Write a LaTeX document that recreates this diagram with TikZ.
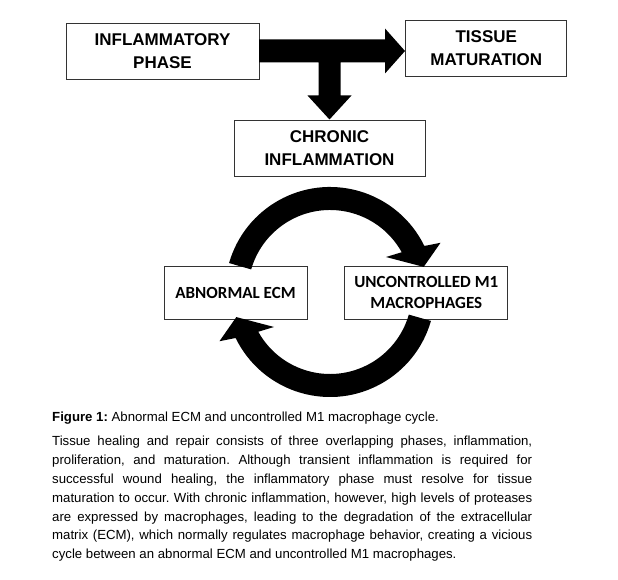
\documentclass[tikz,border=0pt]{standalone}
\usepackage{fontspec}
\setmainfont{Liberation Sans}
\newfontfamily\calibrifont{Carlito}
\usetikzlibrary{positioning}
\frenchspacing

\begin{document}
\begin{tikzpicture}[x=1pt,y=1pt]
  \tikzstyle{every node}=[inner sep=0pt]
  \tikzstyle{phase}=[draw=black!80,line width=0.8pt,fill=white,align=center,
                     minimum height=56pt,font=\fontsize{17}{22.5}\selectfont\bfseries]
  \tikzstyle{loopbox}=[phase,minimum height=53pt,
                       font=\fontsize{17}{20.5}\selectfont\calibrifont\bfseries]

  \useasboundingbox (0,0) rectangle (618,580);

  \node[phase,minimum width=193pt] (infl) at (162.5,529) {INFLAMMATORY\\PHASE};
  \node[phase,minimum width=161pt] (tissue) [right=146pt of infl,yshift=3pt]
    {TISSUE\\MATURATION};
  \node[phase,minimum width=191pt] (chronic) at (329.5,432) {CHRONIC\\INFLAMMATION};
  \node[loopbox,minimum width=143pt] (ecm) at (235.5,287.5) {ABNORMAL ECM};
  \node[loopbox,minimum width=163pt] (mone) [right=37pt of ecm]
    {UNCONTROLLED M1\\MACROPHAGES};

  \coordinate (fork) at (chronic.north |- infl.east);
  \coordinate (cyc) at (330,288);

  \fill[shift={(fork)}] (-70.5,11.5) -- (55.5,11.5) -- (55.5,22.5) -- (75.5,0)
    -- (55.5,-22.5) -- (55.5,-11.5) -- (11,-11.5) -- (11,-44.5) -- (22,-44.5)
    -- (0,-68.5) -- (-22,-44.5) -- (-11,-44.5) -- (-11,-11.5) -- (-70.5,-11.5)
    -- cycle;

  \fill[shift={(cyc)}] (164:105) arc[start angle=164,end angle=26,radius=105]
    -- (24:121) -- (15:97) -- (32:66) -- (29:82)
    arc[start angle=29,end angle=164,radius=82] -- cycle;
  \fill[shift={(cyc)}] (344:105) arc[start angle=344,end angle=206,radius=105]
    -- (204:121) -- (195:97) -- (212:66) -- (209:82)
    arc[start angle=209,end angle=344,radius=82] -- cycle;

  \node[anchor=base west,text width=480pt,align=justify,
        font=\fontsize{13.2}{18.8}\selectfont] (caption) at (52,158)
    {\textbf{Figure 1:} Abnormal ECM and uncontrolled M1 macrophage cycle.\par
     \vspace{5.2pt}\hyphenpenalty=10000
     Tissue healing and repair consists of three overlapping phases, inflammation,\linebreak
     proliferation, and maturation. Although transient inflammation is required for\linebreak
     successful wound healing, the inflammatory phase must resolve for tissue\linebreak
     maturation to occur. With chronic inflammation, however, high levels of proteases\linebreak
     are expressed by macrophages, leading to the degradation of the extracellular\linebreak
     matrix (ECM), which normally regulates macrophage behavior, creating a vicious\linebreak
     cycle between an abnormal ECM and uncontrolled M1 macrophages.};
\end{tikzpicture}
\end{document}
